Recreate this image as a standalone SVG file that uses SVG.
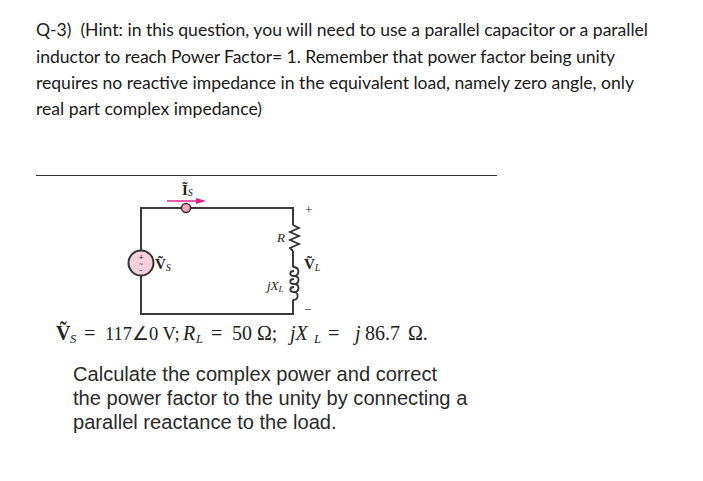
<svg xmlns="http://www.w3.org/2000/svg" width="703" height="481" viewBox="0 0 703 481">
<style>
.h{font-family:Lato,"Open Sans",sans-serif;font-size:17.6px;fill:#1a1a1a}
.b{font-family:"Liberation Sans",Arial,sans-serif;font-size:20.1px;fill:#2a2a2a}
.s{font-family:"Liberation Serif","Times New Roman",serif;fill:#222}
.v{font-size:20px}
.i{font-style:italic}
.u{font-size:12.5px;font-style:italic}
.w{fill:none;stroke:#3a3a3a;stroke-width:2}
.c{fill:none;stroke:#333;stroke-width:1.8}
</style>
<rect width="703" height="481" fill="#fff"/>
<g id="hint">
<text class="h" x="36" y="36" textLength="612" lengthAdjust="spacing" xml:space="preserve">Q-3)  (Hint: in this question, you will need to use a parallel capacitor or a parallel</text>
<text class="h" x="36" y="63" textLength="579" lengthAdjust="spacing">inductor to reach Power Factor= 1. Remember that power factor being unity</text>
<text class="h" x="36" y="89" textLength="598" lengthAdjust="spacing">requires no reactive impedance in the equivalent load, namely zero angle, only</text>
<text class="h" x="36" y="115" textLength="226" lengthAdjust="spacing">real part complex impedance)</text>
</g>
<line x1="36" y1="175.500" x2="497" y2="175.500" stroke="#333" stroke-width="1"/>
<g id="connectors">
<path class="w" d="M141 250V208H293V225M293 251V267M293 300V314H141V276"/>
<path d="M167 201H200" stroke="#e0218a" stroke-width="1.500" fill="none"/>
<path d="M196 198L206 201L196 204Z" fill="#e0218a"/>
</g>
<g id="resistor">
<path class="c" d="M293 225L299 228L290 232L299 236L290 240L299 244L290 248L293 251"/>
<text class="s i" x="277" y="242" font-size="13">R</text>
</g>
<g id="inductor">
<path class="c" d="M293 267C300 267 300 276 294 276C289 276 289 271 294 271M294 276C300 276 300 284 294 284C289 284 289 279 294 279M294 284C300 284 300 292 294 292C289 292 289 287 294 287M294 292C299 292 299 300 293 300"/>
<text class="s" x="267" y="290" font-size="13"><tspan class="i">jX</tspan><tspan font-size="9" class="i" dy="2">L</tspan></text>
</g>
<g id="source">
<circle cx="141" cy="263" r="12.500" fill="#f9cfdc" stroke="#333" stroke-width="2"/>
<text class="s" x="141" y="259.500" font-size="9" font-weight="bold" text-anchor="middle">+</text>
<text class="s" x="141" y="266" font-size="7" font-weight="bold" text-anchor="middle">~</text>
<text class="s" x="141" y="273" font-size="7" font-weight="bold" text-anchor="middle">−</text>
</g>
<g id="source-label">
<text class="s" x="155" y="269" font-size="15" font-weight="bold">Ṽ<tspan font-size="10" class="i" font-weight="normal" dy="2">S</tspan></text>
</g>
<g id="switch">
<circle cx="186" cy="208" r="4.500" fill="#f2a5bd" stroke="#333" stroke-width="1.500"/>
</g>
<g id="current-label">
<text class="s" x="182" y="195" font-size="15" font-weight="bold">Ĩ<tspan font-size="10" class="i" font-weight="normal" dy="1">S</tspan></text>
</g>
<g id="load-voltage">
<text class="s" x="305" y="214" font-size="13">+</text>
<text class="s" x="304" y="269" font-size="15" font-weight="bold">Ṽ<tspan font-size="10" class="i" font-weight="normal" dy="2">L</tspan></text>
<text class="s" x="304" y="314" font-size="13">−</text>
</g>
<g id="values">
<text class="s v" x="56" y="340" font-weight="bold">Ṽ</text>
<text class="s u" x="70" y="343">S</text>
<text class="s v" x="84" y="340">=</text>
<text class="s" x="105" y="340" font-size="18.500">117∠0 V;</text>
<text class="s v i" x="183" y="340">R</text>
<text class="s u" x="196" y="343">L</text>
<text class="s v" x="211" y="340">=</text>
<text class="s v" x="232" y="340">50 Ω;</text>
<text class="s v i" x="290" y="340">jX</text>
<text class="s u" x="314" y="343">L</text>
<text class="s v" x="328" y="340">=</text>
<text class="s v" x="355" y="340"><tspan class="i">j</tspan><tspan x="365">86.7</tspan><tspan x="408">Ω.</tspan></text>
</g>
<g id="task">
<text class="b" x="73" y="381">Calculate the complex power and correct</text>
<text class="b" x="73" y="405">the power factor to the unity by connecting a</text>
<text class="b" x="73" y="429">parallel reactance to the load.</text>
</g>
</svg>
